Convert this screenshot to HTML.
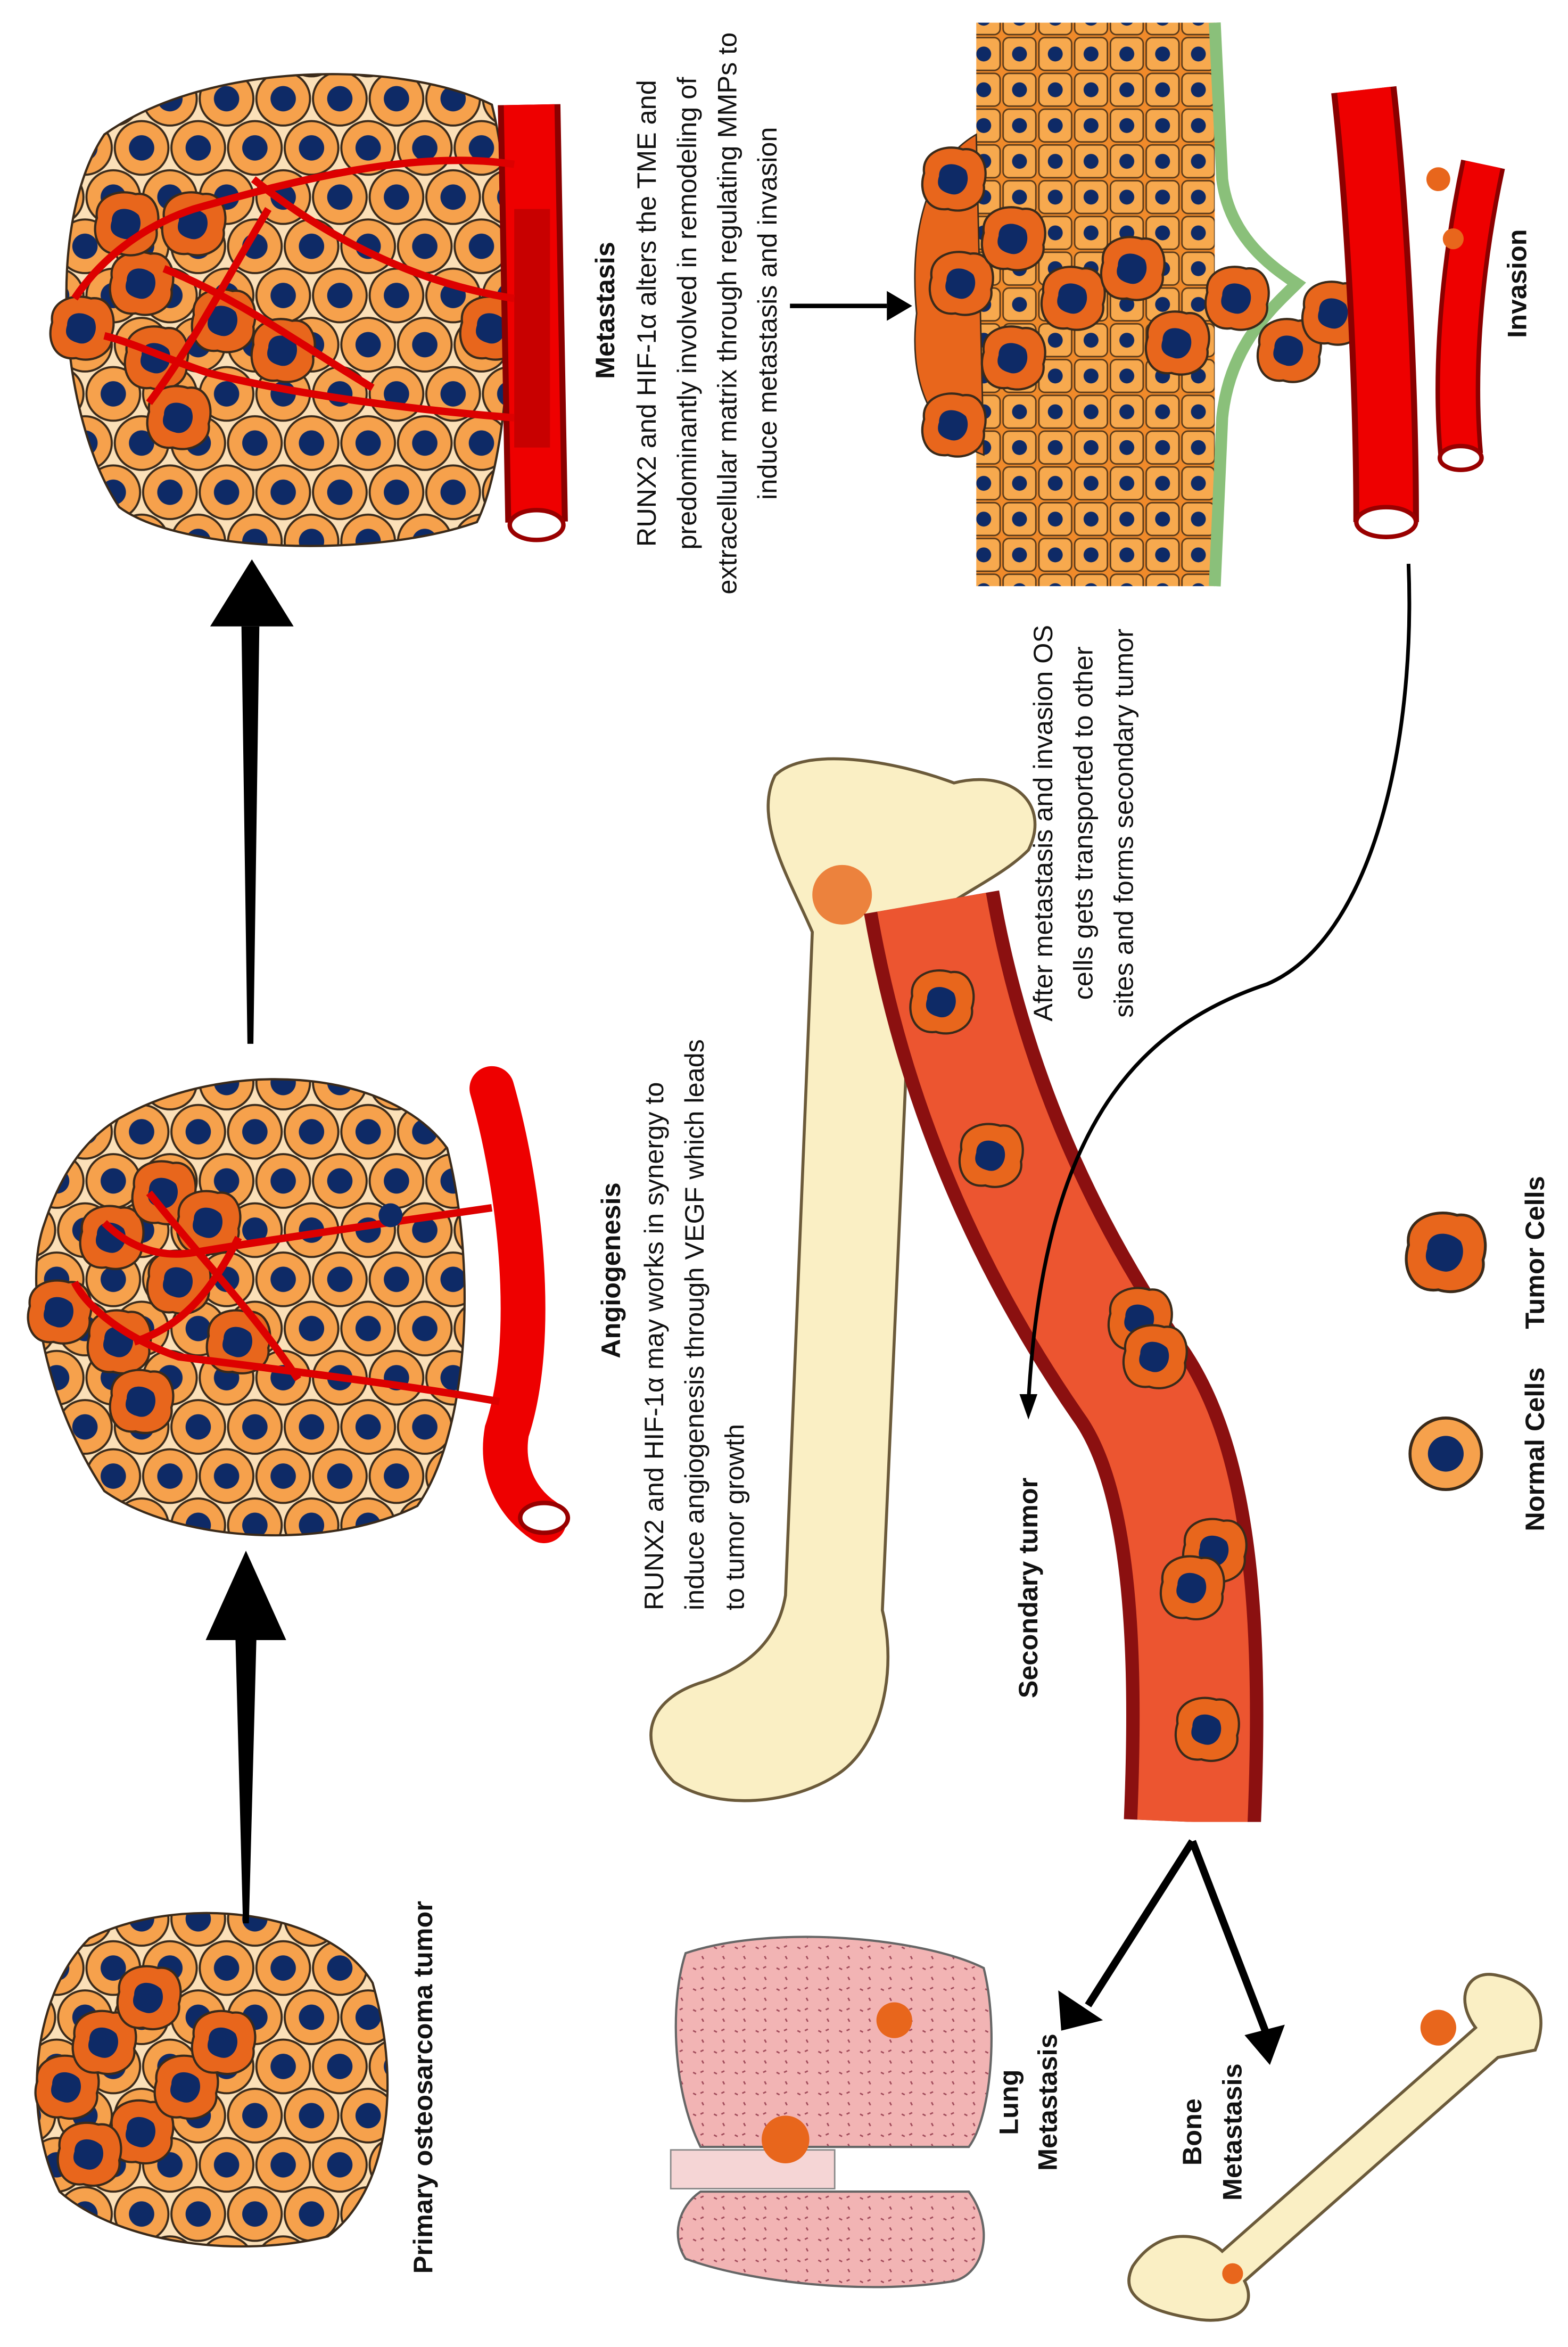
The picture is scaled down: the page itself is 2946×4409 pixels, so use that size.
<!DOCTYPE html>
<html><head><meta charset="utf-8"><style>
html,body{margin:0;padding:0;background:#fff}
svg{display:block}
text{font-family:"Liberation Sans",Arial,sans-serif;fill:#111}
.b{font-weight:bold}
</style></head><body>
<svg width="2946" height="4409" viewBox="0 0 1052 1574" xmlns="http://www.w3.org/2000/svg">
<defs>
<g id="nc"><circle r="18" fill="#f6a14c" stroke="#3a2a1a" stroke-width="1.4"/><circle r="8.5" fill="#0e2a66"/></g>
<pattern id="cells" width="38" height="66" patternUnits="userSpaceOnUse">
 <rect width="38" height="66" fill="#fbe0b8"/>
 <use href="#nc" x="0" y="0"/><use href="#nc" x="38" y="0"/><use href="#nc" x="0" y="66"/><use href="#nc" x="38" y="66"/>
 <use href="#nc" x="19" y="33"/>
</pattern>
<pattern id="sq" width="24" height="24" patternUnits="userSpaceOnUse">
 <rect width="24" height="24" fill="#f08a2a"/>
 <rect x="1" y="1" width="22" height="22" rx="4" fill="#f7a94e" stroke="#5a3a1a" stroke-width="1"/>
 <circle cx="12" cy="12" r="5" fill="#0e2a66"/>
</pattern>
<pattern id="lungp" width="14" height="14" patternUnits="userSpaceOnUse">
 <rect width="14" height="14" fill="#f2b4b4"/>
 <path d="M3 4l2 1M9 10l1 2M10 3l-2 1" stroke="#a04a5a" stroke-width="1"/>
</pattern>
<g id="tc">
 <path d="M-20,-4 C-22,-18 -6,-24 6,-20 C18,-22 24,-8 20,4 C22,16 8,24 -4,20 C-18,22 -24,8 -20,-4Z" fill="#e8661c" stroke="#3a2a1a" stroke-width="1.5"/>
 <path d="M-10,-2 C-10,-12 2,-12 8,-6 C12,2 6,12 -2,10 C-10,8 -12,4 -10,-2Z" fill="#0e2a66"/>
</g>
</defs>

<!-- Primary tumor -->
<path d="M60,1300 C120,1270 220,1280 250,1330 C270,1400 260,1470 220,1500 C160,1515 80,1505 40,1470 C15,1420 20,1340 60,1300Z" fill="url(#cells)" stroke="#3a2a1a" stroke-width="1.5"/>
<use href="#tc" x="45" y="1400"/><use href="#tc" x="70" y="1370"/><use href="#tc" x="95" y="1430"/><use href="#tc" x="60" y="1445"/><use href="#tc" x="125" y="1400"/><use href="#tc" x="100" y="1340"/><use href="#tc" x="150" y="1370"/>

<!-- Big arrows -->
<polygon points="140,1100 190,1100 172,1100 167,1290 163,1290 158,1100" fill="#000"/>
<polygon points="138,1100 192,1100 165,1040" fill="#000"/>
<polygon points="143,420 195,420 174,420 170,700 166,700 162,420" fill="#000"/>
<polygon points="141,420 197,420 169,375" fill="#000"/>

<!-- Angiogenesis cluster -->
<path d="M80,750 C150,710 260,715 300,770 C320,850 315,960 280,1010 C220,1040 120,1035 70,1000 C30,940 15,860 30,820 C40,790 55,765 80,750Z" fill="url(#cells)" stroke="#3a2a1a" stroke-width="1.5"/>
<use href="#tc" x="40" y="880"/><use href="#tc" x="75" y="830"/><use href="#tc" x="80" y="900"/><use href="#tc" x="120" y="860"/><use href="#tc" x="110" y="800"/><use href="#tc" x="160" y="900"/><use href="#tc" x="140" y="820"/><use href="#tc" x="95" y="940"/>
<path d="M330,730 C350,800 360,900 340,960 C335,990 350,1010 365,1020" stroke="#e00" stroke-width="30" fill="none" stroke-linecap="round"/>
<ellipse cx="365" cy="1018" rx="16" ry="10" fill="#fff" stroke="#900" stroke-width="3"/>
<g stroke="#d00" stroke-width="5" fill="none">
<path d="M335,940 C280,930 200,920 120,910 C90,900 60,880 50,860"/>
<path d="M330,810 C260,820 190,830 130,840 C100,845 80,830 70,820"/>
<path d="M200,925 C170,880 140,850 100,800"/>
<path d="M160,830 C140,870 120,890 90,900"/>
</g>
<circle cx="262" cy="815" r="8" fill="#0e2a66"/>

<!-- Metastasis cluster -->
<path d="M70,90 C140,40 270,40 330,70 C350,150 345,300 320,350 C250,375 120,370 80,340 C40,280 30,150 70,90Z" fill="url(#cells)" stroke="#3a2a1a" stroke-width="1.5"/>
<use href="#tc" x="55" y="220"/><use href="#tc" x="95" y="190"/><use href="#tc" x="105" y="240"/><use href="#tc" x="120" y="280"/><use href="#tc" x="150" y="215"/><use href="#tc" x="85" y="150"/><use href="#tc" x="190" y="235"/><use href="#tc" x="130" y="150"/><use href="#tc" x="330" y="220"/>
<path d="M355,70 L360,350" stroke="#8b0000" stroke-width="42" fill="none"/>
<path d="M355,70 L360,350" stroke="#e00" stroke-width="34" fill="none"/>
<rect x="345" y="140" width="24" height="160" fill="#c80000"/>
<ellipse cx="360" cy="352" rx="18" ry="10" fill="#fff" stroke="#900" stroke-width="3"/>
<g stroke="#d00" stroke-width="5" fill="none">
<path d="M345,110 C280,100 200,120 130,140 C100,150 70,170 50,200"/>
<path d="M345,280 C280,275 200,265 140,250 C110,240 90,230 70,225"/>
<path d="M345,200 C280,190 220,160 170,120"/>
<path d="M250,260 C200,230 160,200 110,180"/>
<path d="M180,140 C150,190 130,230 100,270"/>
</g>

<!-- Metastasis arrow -->
<line x1="530" y1="205" x2="595" y2="205" stroke="#000" stroke-width="3"/>
<polygon points="595,195 612,205 595,215" fill="#000"/>

<!-- Invasion panel -->
<rect x="655" y="15" width="160" height="378" fill="url(#sq)"/>
<path d="M815,15 L820,120 C825,160 855,180 870,190 C855,205 825,230 820,280 L815,393" stroke="#8ac07a" stroke-width="8" fill="none"/>
<path d="M655,90 C620,110 610,160 615,210 C610,250 620,290 660,305 Z" fill="#e8661c" stroke="#3a2a1a"/>
<use href="#tc" x="640" y="120"/><use href="#tc" x="645" y="190"/><use href="#tc" x="640" y="285"/><use href="#tc" x="680" y="160"/><use href="#tc" x="680" y="240"/><use href="#tc" x="720" y="200"/><use href="#tc" x="760" y="180"/><use href="#tc" x="790" y="230"/><use href="#tc" x="830" y="200"/><use href="#tc" x="865" y="235"/><use href="#tc" x="895" y="210"/>
<path d="M915,60 C925,150 930,270 930,350" stroke="#8b0000" stroke-width="44" fill="none"/>
<path d="M915,60 C925,150 930,270 930,350" stroke="#e00" stroke-width="36" fill="none"/>
<ellipse cx="930" cy="350" rx="20" ry="10" fill="#fff" stroke="#900" stroke-width="3"/>
<path d="M995,110 C980,180 975,250 980,305" stroke="#8b0000" stroke-width="30" fill="none"/>
<path d="M995,110 C980,180 975,250 980,305" stroke="#e00" stroke-width="24" fill="none"/>
<ellipse cx="980" cy="307" rx="14" ry="8" fill="#fff" stroke="#900" stroke-width="3"/>
<circle cx="965" cy="120" r="8" fill="#e8661c"/><circle cx="975" cy="160" r="7" fill="#e8661c"/>

<!-- Large bone -->
<path d="M520,520 C540,500 600,510 640,525 C680,515 705,540 690,570 C670,590 640,600 612,625 L592,1080 C602,1120 592,1170 562,1190 C532,1210 482,1215 452,1195 C427,1170 432,1140 472,1128 C502,1118 522,1100 527,1070 L545,625 C530,590 505,550 520,520Z" fill="#faefc4" stroke="#6b5a3a" stroke-width="2"/>
<circle cx="565" cy="600" r="20" fill="#e8661c" opacity=".8"/>
<ellipse cx="600" cy="632" rx="14" ry="9" fill="#e8661c" stroke="#333"/>

<!-- Vessel band -->
<path d="M625,605 C645,720 690,830 760,930 C800,990 805,1100 800,1222" stroke="#8b1010" stroke-width="92" fill="none"/>
<path d="M625,605 C645,720 690,830 760,930 C800,990 805,1100 800,1222" stroke="#ec5530" stroke-width="74" fill="none"/>
<rect x="740" y="1222" width="120" height="30" fill="#fff"/>
<use href="#tc" x="632" y="672"/><use href="#tc" x="665" y="775"/><use href="#tc" x="765" y="885"/><use href="#tc" x="775" y="910"/><use href="#tc" x="815" y="1040"/><use href="#tc" x="800" y="1065"/><use href="#tc" x="810" y="1160"/>

<!-- Curved arrow -->
<path d="M945,378 C950,500 920,630 850,660 C760,690 700,760 690,940" stroke="#000" stroke-width="2.5" fill="none"/>
<polygon points="684,935 696,935 690,952" fill="#000"/>

<!-- arrows to lung/bone -->
<line x1="800" y1="1235" x2="730" y2="1345" stroke="#000" stroke-width="5"/>
<polygon points="710,1335 740,1355 712,1362" fill="#000"/>
<line x1="800" y1="1235" x2="850" y2="1365" stroke="#000" stroke-width="5"/>
<polygon points="835,1365 862,1358 852,1385" fill="#000"/>

<!-- Lung -->
<path d="M460,1310 C520,1290 620,1300 660,1320 C670,1360 665,1420 650,1440 L470,1440 C450,1400 450,1340 460,1310Z" fill="url(#lungp)" stroke="#666" stroke-width="1.5"/>
<path d="M470,1470 L650,1470 C668,1495 660,1525 640,1530 C580,1540 500,1530 460,1515 C450,1500 455,1480 470,1470Z" fill="url(#lungp)" stroke="#666" stroke-width="1.5"/>
<rect x="450" y="1442" width="110" height="26" fill="#f5d5d5" stroke="#888"/>
<circle cx="600" cy="1355" r="12" fill="#e8661c"/><circle cx="527" cy="1435" r="16" fill="#e8661c"/>

<!-- Small bone -->
<path d="M760,1520 C780,1490 810,1500 820,1510 L990,1360 C975,1340 985,1320 1005,1325 C1030,1330 1040,1350 1030,1375 L1005,1380 L835,1530 C845,1550 825,1560 800,1555 C770,1550 750,1540 760,1520Z" fill="#faefc4" stroke="#6b5a3a" stroke-width="2"/>
<circle cx="965" cy="1360" r="12" fill="#e8661c"/><circle cx="827" cy="1525" r="7" fill="#e8661c"/>

<!-- Legend -->
<circle cx="970" cy="975" r="24" fill="#f6a14c" stroke="#3a2a1a" stroke-width="2"/>
<circle cx="970" cy="975" r="12" fill="#0e2a66"/>
<g transform="translate(970 840) scale(1.25)"><use href="#tc"/></g>

<!-- Text (rotated) -->
<g font-size="18">
<text class="b" transform="translate(290 1400) rotate(-90)" text-anchor="middle">Primary osteosarcoma tumor</text>
<text class="b" transform="translate(416 852) rotate(-90)" text-anchor="middle">Angiogenesis</text>
<text transform="translate(445 1080) rotate(-90)">RUNX2 and HIF-1α may works in synergy to</text>
<text transform="translate(472 1080) rotate(-90)">induce angiogenesis through VEGF which leads</text>
<text transform="translate(499 1080) rotate(-90)">to tumor growth</text>
<text class="b" transform="translate(412 208) rotate(-90)" text-anchor="middle">Metastasis</text>
<text transform="translate(440 210) rotate(-90)" text-anchor="middle">RUNX2 and HIF-1α alters the TME and</text>
<text transform="translate(467 210) rotate(-90)" text-anchor="middle">predominantly involved in remodeling of</text>
<text transform="translate(494 210) rotate(-90)" text-anchor="middle">extracellular matrix through regulating MMPs to</text>
<text transform="translate(521 210) rotate(-90)" text-anchor="middle">induce metastasis and invasion</text>
<text transform="translate(706 552) rotate(-90)" text-anchor="middle">After metastasis and invasion OS</text>
<text transform="translate(733 552) rotate(-90)" text-anchor="middle">cells gets transported to other</text>
<text transform="translate(760 552) rotate(-90)" text-anchor="middle">sites and forms secondary tumor</text>
<text class="b" transform="translate(696 1065) rotate(-90)" text-anchor="middle">Secondary tumor</text>
<text class="b" transform="translate(1024 190) rotate(-90)" text-anchor="middle">Invasion</text>
<text class="b" transform="translate(683 1410) rotate(-90)" text-anchor="middle">Lung</text>
<text class="b" transform="translate(709 1410) rotate(-90)" text-anchor="middle">Metastasis</text>
<text class="b" transform="translate(806 1430) rotate(-90)" text-anchor="middle">Bone</text>
<text class="b" transform="translate(833 1430) rotate(-90)" text-anchor="middle">Metastasis</text>
<text class="b" transform="translate(1036 972) rotate(-90)" text-anchor="middle">Normal Cells</text>
<text class="b" transform="translate(1036 840) rotate(-90)" text-anchor="middle">Tumor Cells</text>
</g>
</svg>
</body></html>
